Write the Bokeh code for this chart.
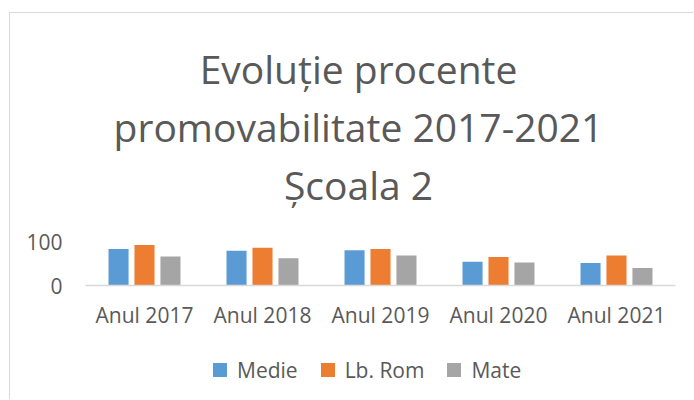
from bokeh.plotting import figure
from bokeh.layouts import column
from bokeh.models import FactorRange, Range1d, FixedTicker, Legend, LegendItem, ColumnDataSource
from bokeh.transform import dodge
from bokeh.embed import file_html
from bokeh.resources import INLINE

years = ["Anul 2017", "Anul 2018", "Anul 2019", "Anul 2020", "Anul 2021"]
medie = [83, 79, 80, 54, 51]
lb_rom = [92, 86, 83, 65, 68]
mate = [66, 62, 68, 52, 40]
series_names = ["Medie", "Lb. Rom", "Mate"]
series_cols = ["medie", "lb_rom", "mate"]
colors = ["#5B9BD5", "#ED7D31", "#A5A5A5"]
title_lines = ["Evoluție procente", "promovabilitate 2017-2021", "Școala 2"]
y_ticks = [0, 100]

FONT = "Open Sans"
TXT = "#595959"
GRID = "#d9d9d9"
W = 683
BL, BR = 75, 18          # left / right borders shared by all three panels
FW = W - BL - BR         # frame width (590)


def bare(fig):
    fig.outline_line_color = None
    fig.background_fill_color = "white"
    fig.border_fill_color = "white"
    fig.xgrid.grid_line_color = None
    fig.ygrid.grid_line_color = None
    return fig


src = ColumnDataSource(dict(x=years, medie=medie, lb_rom=lb_rom, mate=mate))

# ---- title panel (pixel coordinates inside its frame) ----
TH = 213
pt = figure(width=W, height=TH, x_range=Range1d(0, FW), y_range=Range1d(0, TH),
            x_axis_location=None, y_axis_location=None,
            min_border_left=BL, min_border_right=BR, min_border_top=0, min_border_bottom=0,
            output_backend="svg", toolbar_location=None)
bare(pt)
pt.text(x=[273, 273, 273], y=[158, 100, 42], text=title_lines,
        text_align="center", text_baseline="alphabetic", text_font={"value": FONT},
        text_font_size="39px", text_color=TXT)

# ---- chart ----
p = figure(x_range=FactorRange(*years, range_padding=0), y_range=Range1d(0, 100),
           width=W, height=115, output_backend="svg", toolbar_location=None,
           min_border_left=BL, min_border_right=BR, min_border_top=15, min_border_bottom=56)
bare(p)
for off, col, c in zip([-0.22, 0.0, 0.22], series_cols, colors):
    p.vbar(x=dodge("x", off, range=p.x_range), top=col, width=0.17, source=src,
           fill_color=c, line_color=None)

p.xaxis.axis_line_color = GRID
p.xaxis.axis_line_width = 1.5
p.xaxis.major_tick_line_color = None
p.xaxis.minor_tick_line_color = None
p.xaxis.major_tick_out = 0
p.xaxis.major_label_standoff = 15
p.xaxis.major_label_text_font = FONT
p.xaxis.major_label_text_font_size = "21px"
p.xaxis.major_label_text_color = TXT

p.yaxis.ticker = FixedTicker(ticks=y_ticks)
p.yaxis.axis_line_color = None
p.yaxis.major_tick_line_color = None
p.yaxis.minor_tick_line_color = None
p.yaxis.major_tick_out = 0
p.yaxis.major_label_standoff = 23
p.yaxis.major_label_text_font = FONT
p.yaxis.major_label_text_font_size = "21px"
p.yaxis.major_label_text_color = TXT

p.ygrid.ticker = FixedTicker(ticks=y_ticks)
p.ygrid.grid_line_color = GRID
p.ygrid.grid_line_width = 1.5

# ---- legend panel ----
LH = 58
pl = figure(width=W, height=LH, x_range=Range1d(0, 1), y_range=Range1d(0, 1),
            x_axis_location=None, y_axis_location=None,
            min_border_left=BL, min_border_right=BR, min_border_top=0, min_border_bottom=0,
            output_backend="svg", toolbar_location=None)
bare(pl)
items = []
for n, col, c in zip(series_names, series_cols, colors):
    r = pl.scatter(x=col, y=col, source=src, marker="square", size=14,
                   fill_color=c, line_color=None, visible=False)
    items.append(LegendItem(label=n, renderers=[r], index=0))
legend = Legend(items=items, orientation="horizontal", location=(117, 12),
                glyph_width=35, glyph_height=35, label_standoff=-7, spacing=12,
                label_text_font=FONT, label_text_font_size="21px", label_text_color=TXT,
                border_line_color=None, background_fill_alpha=0, margin=0, padding=0,
                click_policy="none")
pl.add_layout(legend, "center")

layout = column(pt, p, pl, spacing=0)
layout.styles = {"margin-left": "9px", "margin-top": "12px",
                 "border-left": "1px solid #d9d9d9", "border-top": "1px solid #d9d9d9"}

open("out.html", "w").write(file_html(layout, INLINE))
